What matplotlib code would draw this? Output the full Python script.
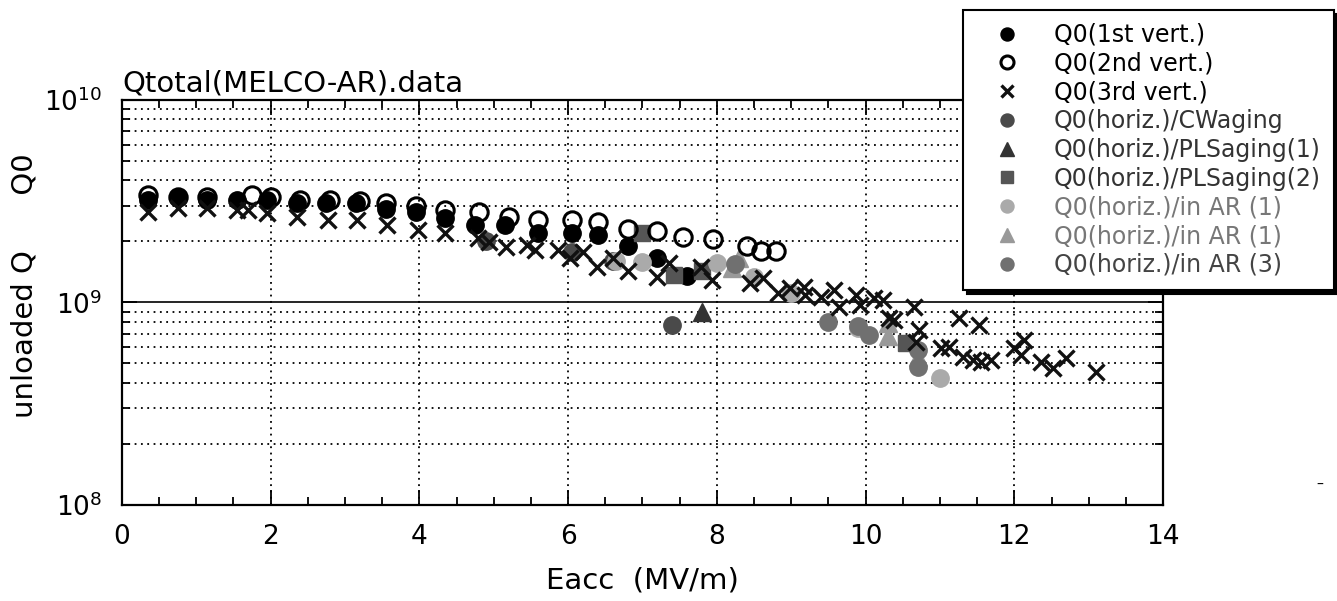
import matplotlib.pyplot as plt
from matplotlib.ticker import MultipleLocator, LogLocator, NullFormatter

plt.rcParams['font.family'] = ['DejaVu Sans']

# Q0(1st vert.)
x1 = [0.35, 0.75, 1.15, 1.55, 1.95, 2.35, 2.75, 3.15, 3.55, 3.95, 4.35, 4.75, 5.15,
      5.6, 6.05, 6.4, 6.8, 7.2, 7.6]
q1 = [3.2e9, 3.3e9, 3.2e9, 3.2e9, 3.2e9, 3.1e9, 3.1e9, 3.1e9, 2.9e9, 2.8e9, 2.6e9,
      2.4e9, 2.4e9, 2.2e9, 2.2e9, 2.15e9, 1.9e9, 1.65e9, 1.35e9]
# Q0(2nd vert.)
x2 = [0.35, 0.75, 1.15, 1.75, 2.0, 2.4, 2.8, 3.2, 3.55, 3.95, 4.35, 4.8, 5.2, 5.6,
      6.05, 6.4, 6.8, 7.2, 7.55, 7.95, 8.4, 8.6, 8.8]
q2 = [3.4e9, 3.3e9, 3.3e9, 3.4e9, 3.3e9, 3.2e9, 3.2e9, 3.15e9, 3.1e9, 3.0e9, 2.85e9,
      2.8e9, 2.65e9, 2.55e9, 2.55e9, 2.5e9, 2.3e9, 2.25e9, 2.1e9, 2.05e9, 1.9e9,
      1.8e9, 1.8e9]
# Q0(3rd vert.)
x3 = [0.35, 0.75, 1.14, 1.55, 1.7, 1.95, 2.36, 2.77, 3.16, 3.57, 3.98, 4.35, 4.79,
      4.93, 5.16, 5.45, 5.56, 5.86, 6.03, 6.2, 6.39, 6.61, 6.81, 7.2, 7.35, 7.78,
      7.94, 8.45, 8.62, 8.82, 8.99, 9.17, 9.19, 9.4, 9.57, 9.64, 9.87, 9.93, 10.11,
      10.24, 10.31, 10.38, 10.65, 10.72, 10.68, 11.01, 11.12, 11.25, 11.31, 11.44,
      11.52, 11.55, 11.68, 11.99, 12.09, 12.13, 12.36, 12.52, 12.69, 13.1]
q3 = [2.8e9, 2.93e9, 2.93e9, 2.87e9, 2.87e9, 2.77e9, 2.64e9, 2.55e9, 2.55e9, 2.41e9,
      2.28e9, 2.2e9, 2.08e9, 1.99e9, 1.88e9, 1.92e9, 1.82e9, 1.82e9, 1.66e9, 1.78e9,
      1.5e9, 1.66e9, 1.42e9, 1.34e9, 1.57e9, 1.5e9, 1.29e9, 1.25e9, 1.32e9, 1.11e9,
      1.18e9, 1.19e9, 1.09e9, 1.06e9, 1.15e9, 9.5e8, 1.09e9, 9.7e8, 1.05e9, 1.03e9,
      8.4e8, 8.2e8, 9.5e8, 7.3e8, 6.4e8, 5.96e8, 6.0e8, 8.4e8, 5.38e8, 5.2e8, 7.7e8,
      5.08e8, 5.2e8, 5.96e8, 5.5e8, 6.5e8, 5.08e8, 4.75e8, 5.3e8, 4.54e8]
# Q0(horiz.)/CWaging
x4 = [4.9, 6.05, 6.6, 7.4]
q4 = [2.0e9, 1.78e9, 1.6e9, 7.7e8]
# Q0(horiz.)/PLSaging(1)
x5 = [7.8]
q5 = [9.0e8]
# Q0(horiz.)/PLSaging(2)
x6 = [7.0, 7.42, 7.8, 10.55]
q6 = [2.2e9, 1.37e9, 1.42e9, 6.3e8]
# Q0(horiz.)/in AR (1) circles
x7 = [6.65, 7.0, 8.0, 8.5, 9.0, 9.9, 11.0]
q7 = [1.6e9, 1.58e9, 1.57e9, 1.34e9, 1.11e9, 7.5e8, 4.25e8]
# Q0(horiz.)/in AR (1) triangles
x8 = [8.2, 8.3, 10.3, 10.3, 10.7]
q8 = [1.48e9, 1.66e9, 7.9e8, 6.8e8, 5.4e8]
# Q0(horiz.)/in AR (3)
x9 = [8.25, 9.5, 9.9, 10.05, 10.7, 10.7]
q9 = [1.55e9, 8.0e8, 7.6e8, 6.9e8, 5.8e8, 4.8e8]

labels = ['Q0(1st vert.)', 'Q0(2nd vert.)', 'Q0(3rd vert.)', 'Q0(horiz.)/CWaging',
          'Q0(horiz.)/PLSaging(1)', 'Q0(horiz.)/PLSaging(2)', 'Q0(horiz.)/in AR (1)',
          'Q0(horiz.)/in AR (1)', 'Q0(horiz.)/in AR (3)']
label_colors = ['black', 'black', 'black', '#333333', '#333333', '#333333',
                '#777777', '#777777', '#444444']

fig = plt.figure(figsize=(13.37, 6.01), dpi=100)
ax = fig.add_axes([0.0912, 0.160, 0.7787, 0.674])

ms = 12.5
h = []
h += ax.plot(x1, q1, 'o', color='black', ms=ms, zorder=3)
h += ax.plot(x2, q2, 'o', mfc='none', mec='black', mew=2.2, ms=ms, zorder=4)
h += ax.plot(x3, q3, 'x', color='#111111', mew=2.4, ms=12, zorder=5)
h += ax.plot(x4, q4, 'o', color='#4a4a4a', ms=ms, zorder=3)
h += ax.plot(x5, q5, '^', color='#333333', ms=ms, zorder=3)
h += ax.plot(x6, q6, 's', color='#555555', ms=11, zorder=3)
h += ax.plot(x7, q7, 'o', color='#aaaaaa', ms=ms, zorder=3)
h += ax.plot(x8, q8, '^', color='#999999', ms=ms, zorder=3)
h += ax.plot(x9, q9, 'o', color='#707070', ms=ms, zorder=3)

ax.set_yscale('log')
ax.set_xlim(0, 14)
ax.set_ylim(1e8, 1e10)
ax.set_xticks(range(0, 15, 2))
ax.xaxis.set_minor_locator(MultipleLocator(0.5))
ax.yaxis.set_minor_locator(LogLocator(base=10, subs=range(2, 10)))
ax.yaxis.set_minor_formatter(NullFormatter())

dots = (0, (1, 2.5))
ax.grid(which='minor', axis='y', ls=dots, color='black', lw=1.3)
ax.grid(which='major', axis='y', ls='-', color='black', lw=1.2)
ax.grid(which='major', axis='x', ls=dots, color='black', lw=1.3)
ax.set_axisbelow(True)

ax.tick_params(which='both', direction='in', top=True, right=True, width=1.3)
ax.tick_params(which='major', length=11, labelsize=19, pad=14)
ax.tick_params(which='minor', length=6)
for s in ax.spines.values():
    s.set_linewidth(1.6)

ax.set_xlabel('Eacc  (MV/m)', fontsize=21, labelpad=12)
ax.set_ylabel('unloaded Q      Q0', fontsize=21)
ax.yaxis.set_label_coords(-0.08, 0.54)
ax.set_title('Qtotal(MELCO-AR).data', fontsize=21, loc='left', pad=6)

leg = fig.legend(h, labels, loc='upper left', bbox_to_anchor=(963 / 1337, 1 - 10 / 601),
                 borderaxespad=0, fontsize=17, frameon=True, fancybox=False,
                 edgecolor='black', framealpha=1, handlelength=2.6, handletextpad=0.7,
                 borderpad=0.55, labelspacing=0.2, markerscale=0.75,
                 shadow={'ox': 3, 'oy': -3, 'facecolor': 'black', 'edgecolor': 'black',
                         'alpha': 1})
leg.get_frame().set_linewidth(1.5)
for t, c in zip(leg.get_texts(), label_colors):
    t.set_color(c)

fig.text(1320 / 1337, 1 - 485 / 601, '–', fontsize=10, ha='center', va='center')

fig.savefig('out.png', dpi=100)
